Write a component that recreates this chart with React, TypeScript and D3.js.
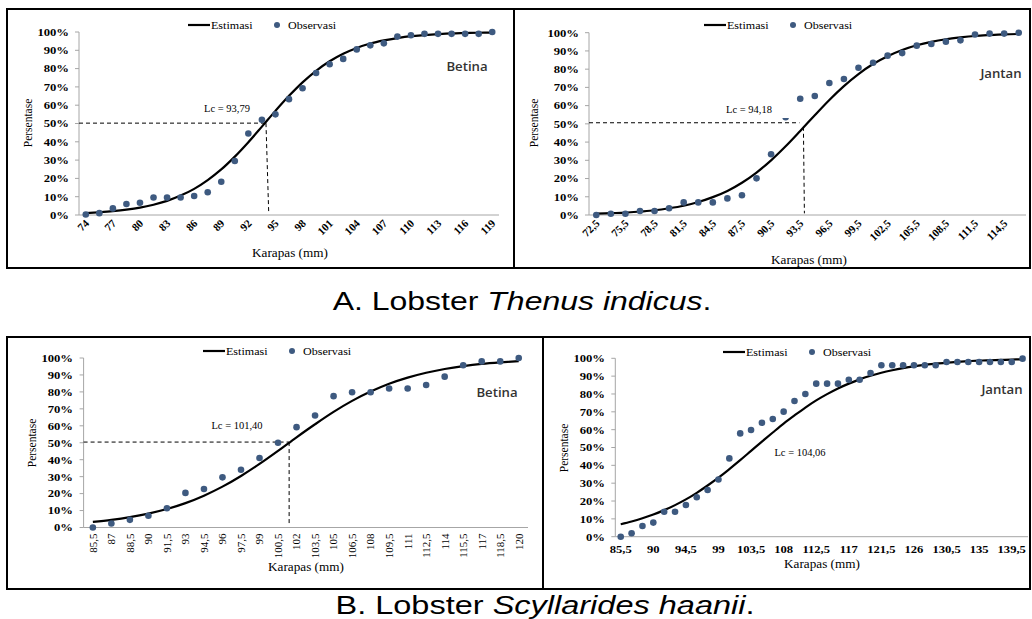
import React from 'react'
import * as d3 from 'd3'

const SERIF = '"Liberation Serif", "Times New Roman", serif'
const SANS = '"Liberation Sans", Arial, sans-serif'
const LABEL = '"Open Sans", "Noto Sans", sans-serif'
const DOT = '#3e5a80'

// A. Thenus indicus, betina
const thenusBetinaKarapas = [74, 75.5, 77, 78.5, 80, 81.5, 83, 84.5, 86, 87.5, 89, 90.5, 92, 93.5, 95, 96.5, 98, 99.5, 101, 102.5, 104, 105.5, 107, 108.5, 110, 111.5, 113, 114.5, 116, 117.5, 119]
const thenusBetinaObservasi = [0.3, 1, 3.6, 6, 6.7, 9.6, 9.5, 9.6, 10.4, 12.4, 18.2, 29.5, 44.5, 52, 55, 63.3, 69.3, 77.6, 82.4, 85.3, 90.5, 92.7, 93.8, 97.5, 98.2, 99, 99, 99, 99, 99, 100]
const thenusBetinaEstimasi = [1.0, 1.5, 2.1, 2.9, 4.0, 5.6, 7.7, 10.6, 14.3, 19.1, 24.9, 31.9, 39.8, 48.3, 56.9, 65.1, 72.5, 78.8, 84.0, 88.1, 91.3, 93.7, 95.4, 96.7, 97.7, 98.3, 98.8, 99.2, 99.4, 99.6, 99.7]

// A. Thenus indicus, jantan
const thenusJantanKarapas = [72.5, 74, 75.5, 77, 78.5, 80, 81.5, 83, 84.5, 86, 87.5, 89, 90.5, 92, 93.5, 95, 96.5, 98, 99.5, 101, 102.5, 104, 105.5, 107, 108.5, 110, 111.5, 113, 114.5, 116]
const thenusJantanObservasi = [0, 0.7, 0.7, 2.2, 2.2, 3.7, 6.9, 6.9, 6.9, 9.1, 10.8, 20.1, 33.3, 53.6, 63.8, 65.3, 72.4, 74.6, 80.8, 83.5, 87.4, 88.8, 92.9, 93.8, 95.1, 95.8, 99, 99.5, 99.5, 100]
const thenusJantanEstimasi = [0.7, 1.0, 1.3, 1.9, 2.6, 3.7, 5.1, 7.1, 9.8, 13.2, 17.7, 23.3, 30.0, 37.7, 46.1, 54.7, 63.1, 70.7, 77.3, 82.8, 87.1, 90.5, 93.1, 95.0, 96.4, 97.4, 98.2, 98.7, 99.1, 99.3]

// B. Scyllarides haanii, betina
const scyllBetinaKarapas = [85.5, 87, 88.5, 90, 91.5, 93, 94.5, 96, 97.5, 99, 100.5, 102, 103.5, 105, 106.5, 108, 109.5, 111, 112.5, 114, 115.5, 117, 118.5, 120]
const scyllBetinaObservasi = [0, 2.4, 4.5, 6.9, 11.4, 20.4, 22.7, 29.6, 34.1, 41, 50, 59.2, 66.1, 77.5, 79.8, 79.8, 82, 82, 84.1, 89, 95.7, 98, 98, 100]
const scyllBetinaEstimasi = [3.3, 4.5, 6.1, 8.2, 10.9, 14.4, 18.8, 24.1, 30.4, 37.5, 45.2, 53.2, 60.9, 68.2, 74.7, 80.2, 84.8, 88.4, 91.3, 93.5, 95.2, 96.5, 97.4, 98.1]

// B. Scyllarides haanii, jantan
const scyllJantanKarapas = [85.5, 87, 88.5, 90, 91.5, 93, 94.5, 96, 97.5, 99, 100.5, 102, 103.5, 105, 106.5, 108, 109.5, 111, 112.5, 114, 115.5, 117, 118.5, 120, 121.5, 123, 124.5, 126, 127.5, 129, 130.5, 132, 133.5, 135, 136.5, 138, 139.5, 141]
const scyllJantanObservasi = [0, 1.9, 6, 7.9, 14, 14, 17.8, 22.1, 26.2, 32.1, 43.9, 57.9, 59.8, 63.9, 66, 70.1, 76.1, 80, 85.8, 85.8, 85.8, 88, 88, 91.8, 96.1, 96.1, 96.1, 96.1, 96.1, 96.1, 97.9, 97.9, 97.9, 97.9, 97.9, 97.9, 97.9, 99.8]
const scyllJantanEstimasi = [7.0, 8.5, 10.3, 12.4, 14.9, 17.7, 20.9, 24.6, 28.7, 33.1, 37.9, 42.9, 48.1, 53.3, 58.4, 63.4, 68.0, 72.4, 76.4, 79.9, 83.1, 85.8, 88.2, 90.2, 91.9, 93.3, 94.5, 95.5, 96.3, 97.0, 97.5, 98.0, 98.4, 98.7, 98.9, 99.1, 99.3, 99.4]

const yTicks = [0, 10, 20, 30, 40, 50, 60, 70, 80, 90, 100]

const fmt = (v: number) => String(v).replace('.', ',')

type PanelCfg = {
  frame: [number, number, number, number]
  plot: { left: number; right: number; top: number; bottom: number }
  cats: number[]
  obs: number[]
  est: number[]
  labelEvery: number
  labelRot: number
  lcText: string
  lcPos: [number, number]
  lcMask?: [number, number, number, number]
  dashH?: [number, number]
  dashV?: [number, number, number, number]
  sex: string
  sexPos: [number, number]
  legendX: number
  legendY: number
  yTitle: [number, number]
  xTitle: [number, number]
  yLabelRight: number
}

const panels: PanelCfg[] = [
  {
    frame: [7, 9, 507, 259],
    plot: { left: 79, right: 499, top: 32, bottom: 215 },
    cats: thenusBetinaKarapas, obs: thenusBetinaObservasi, est: thenusBetinaEstimasi,
    labelEvery: 2, labelRot: -45,
    lcText: 'Lc = 93,79', lcPos: [227, 112],
    dashH: [50.2, 93.95], dashV: [93.95, 50.2, 94.25, 1.8],
    sex: 'Betina', sexPos: [467, 71],
    legendX: 188, legendY: 25,
    yTitle: [28, 123], xTitle: [290, 257], yLabelRight: 69,
  },
  {
    frame: [514, 9, 516, 259],
    plot: { left: 589, right: 1026, top: 32.7, bottom: 215 },
    cats: thenusJantanKarapas, obs: thenusJantanObservasi, est: thenusJantanEstimasi,
    labelEvery: 2, labelRot: -45,
    lcText: 'Lc = 94,18', lcPos: [749, 113], lcMask: [718, 99, 74, 19],
    dashH: [50.6, 93.42], dashV: [93.83, 48.4, 93.93, 0.9],
    sex: 'Jantan', sexPos: [1001, 78],
    legendX: 704, legendY: 25,
    yTitle: [534, 123], xTitle: [809, 264], yLabelRight: 579,
  },
  {
    frame: [7, 337, 536, 252],
    plot: { left: 83.6, right: 528, top: 358, bottom: 527.5 },
    cats: scyllBetinaKarapas, obs: scyllBetinaObservasi, est: scyllBetinaEstimasi,
    labelEvery: 1, labelRot: -90,
    lcText: 'Lc = 101,40', lcPos: [237, 429],
    dashH: [50.4, 101.4], dashV: [101.4, 50.4, 101.4, 1],
    sex: 'Betina', sexPos: [497, 397],
    legendX: 203, legendY: 351,
    yTitle: [32, 443], xTitle: [306, 571], yLabelRight: 73,
  },
  {
    frame: [543, 337, 487, 252],
    plot: { left: 615.3, right: 1028, top: 358.3, bottom: 536.7 },
    cats: scyllJantanKarapas, obs: scyllJantanObservasi, est: scyllJantanEstimasi,
    labelEvery: 3, labelRot: 0,
    lcText: 'Lc = 104,06', lcPos: [800, 456],
    sex: 'Jantan', sexPos: [1002, 394],
    legendX: 723, legendY: 352,
    yTitle: [564, 448], xTitle: [822, 568], yLabelRight: 605,
  },
]

const stretch = (x: number, y: number, s: number) => `translate(${x},${y}) scale(${s},1)`

function Panel({ p }: { p: PanelCfg }) {
  const { plot, cats } = p
  const n = cats.length
  const x = d3.scaleBand<number>().domain(cats).range([plot.left, plot.right]).padding(0)
  const bw = x.bandwidth()
  const cx = (v: number) => (x(v) ?? 0) + bw / 2
  const xv = d3.scaleLinear().domain([cats[0], cats[n - 1]]).range([cx(cats[0]), cx(cats[n - 1])])
  const y = d3.scaleLinear().domain([0, 100]).range([plot.bottom, plot.top])
  const line = d3.line<number>()
    .x((_, i) => cx(cats[i]))
    .y((d) => y(d))
    .curve(d3.curveCatmullRom.alpha(0.5))

  const labelled = cats.filter((_, i) => i % p.labelEvery === 0)

  return (
    <g>
      {/* axes */}
      <line x1={plot.left} x2={plot.left} y1={plot.top} y2={plot.bottom} stroke="#a6a6a6" />
      <line x1={plot.left} x2={plot.right} y1={plot.bottom} y2={plot.bottom} stroke="#a6a6a6" />
      {yTicks.map((t) => (
        <g key={t}>
          <line x1={plot.left - 4} x2={plot.left} y1={y(t)} y2={y(t)} stroke="#a6a6a6" />
          <text transform={stretch(p.yLabelRight, y(t), 1.15)} dy="0.35em" textAnchor="end"
            fontFamily={SERIF} fontSize={11} fontWeight="bold">{t}%</text>
        </g>
      ))}
      {labelled.map((c) => {
        if (p.labelRot === -45) {
          return (
            <text key={c} transform={`translate(${cx(c) + 4},${plot.bottom + 9}) rotate(-45)`}
              textAnchor="end" fontFamily={SERIF} fontSize={11} fontWeight="bold">{fmt(c)}</text>
          )
        }
        if (p.labelRot === -90) {
          return (
            <text key={c} transform={`translate(${cx(c)},${plot.bottom + 6}) rotate(-90)`}
              dy="0.35em" textAnchor="end" fontFamily={SERIF} fontSize={11}>{fmt(c)}</text>
          )
        }
        return (
          <text key={c} transform={stretch(cx(c), plot.bottom + 16, 1.2)} textAnchor="middle"
            fontFamily={SERIF} fontSize={10.5} fontWeight="bold">{fmt(c)}</text>
        )
      })}
      <text transform={`translate(${p.yTitle[0]},${p.yTitle[1]}) rotate(-90)`} dy="0.35em"
        textAnchor="middle" fontFamily={SERIF} fontSize={11.5}>Persentase</text>
      <text transform={stretch(p.xTitle[0], p.xTitle[1], 1.1)} textAnchor="middle"
        fontFamily={SERIF} fontSize={12}>Karapas (mm)</text>

      {/* Lc guide lines */}
      {p.dashH && (
        <line x1={plot.left} x2={xv(p.dashH[1])} y1={y(p.dashH[0])} y2={y(p.dashH[0])}
          stroke="#000" strokeDasharray="4,3" />
      )}
      {p.dashV && (
        <line x1={xv(p.dashV[0])} y1={y(p.dashV[1])} x2={xv(p.dashV[2])} y2={y(p.dashV[3])}
          stroke="#000" strokeDasharray="4,3" />
      )}

      {/* estimasi curve & observasi points */}
      <path d={line(p.est) ?? ''} fill="none" stroke="#000" strokeWidth={2.2} />
      {p.obs.map((v, i) => (
        <circle key={i} cx={cx(cats[i])} cy={y(v)} r={3.3} fill={DOT} />
      ))}

      {p.lcMask && <rect x={p.lcMask[0]} y={p.lcMask[1]} width={p.lcMask[2]} height={p.lcMask[3]} fill="#fff" />}
      <text x={p.lcPos[0]} y={p.lcPos[1]} textAnchor="middle" fontFamily={SERIF} fontSize={10.5}>{p.lcText}</text>
      <text transform={stretch(p.sexPos[0], p.sexPos[1], 1.1)} textAnchor="middle" fontFamily={LABEL}
        fontSize={12} fontWeight={600} fill="#333">{p.sex}</text>

      {/* legend */}
      <line x1={p.legendX} x2={p.legendX + 22} y1={p.legendY} y2={p.legendY} stroke="#000" strokeWidth={2.2} />
      <text transform={stretch(p.legendX + 23, p.legendY, 1.15)} dy="0.35em" fontFamily={SERIF} fontSize={10.5}>Estimasi</text>
      <circle cx={p.legendX + 89} cy={p.legendY} r={3} fill={DOT} />
      <text transform={stretch(p.legendX + 100, p.legendY, 1.15)} dy="0.35em" fontFamily={SERIF} fontSize={10.5}>Observasi</text>

      <rect x={p.frame[0]} y={p.frame[1]} width={p.frame[2]} height={p.frame[3]} fill="none" stroke="#000" strokeWidth={2} />
    </g>
  )
}

export default function App() {
  return (
    <svg width={1032} height={619} style={{ position: 'absolute', left: 0, top: 0, background: '#fff' }}>
      {panels.map((p, i) => <Panel key={i} p={p} />)}
      <text transform={stretch(522, 310, 1.28)} textAnchor="middle" fontFamily={SANS} fontSize={25}>
        A. Lobster <tspan fontStyle="italic">Thenus indicus</tspan>.
      </text>
      <text transform={stretch(545, 614, 1.3)} textAnchor="middle" fontFamily={SANS} fontSize={25}>
        B. Lobster <tspan fontStyle="italic">Scyllarides haanii</tspan>.
      </text>
    </svg>
  )
}
